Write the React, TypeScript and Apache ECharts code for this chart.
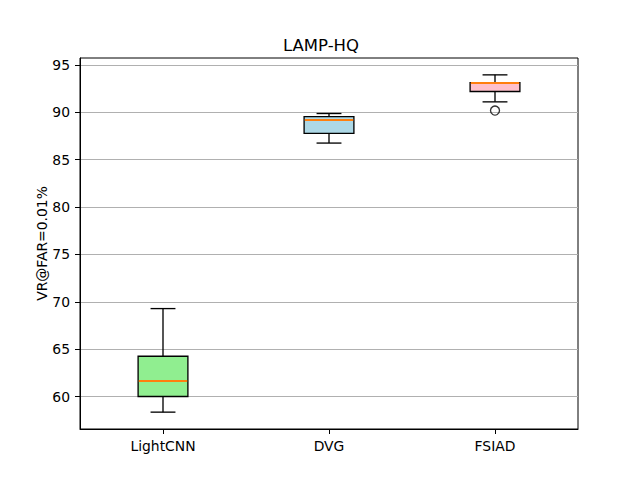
import React, { useEffect, useRef } from "react";
import * as echarts from "echarts";

const categories = ["LightCNN", "DVG", "FSIAD"];
const whiskerLow = [58.35, 86.75, 91.1];
const q1 = [60.0, 87.78, 92.19];
const median = [61.6, 89.23, 93.07];
const q3 = [64.25, 89.55, 93.13];
const whiskerHigh = [69.28, 89.87, 93.95];
const boxColors = ["#90ee90", "#add8e6", "#ffc0cb"];
const outlierCategory = ["FSIAD"];
const outlierValue = [90.18];
const yTicks = [60, 65, 70, 75, 80, 85, 90, 95];

export default function App() {
  const ref = useRef<HTMLDivElement>(null);
  useEffect(() => {
    if (!ref.current) return;
    const chart = echarts.init(ref.current, null, { renderer: "svg" });
    const font = "DejaVu Sans";
    const boxData = categories.map((_, i) => [i, whiskerLow[i], q1[i], median[i], q3[i], whiskerHigh[i]]);
    const option: any = {
      animation: false,
      backgroundColor: "#ffffff",
      title: {
        text: "LAMP-HQ",
        left: "center",
        top: 32,
        textStyle: { fontFamily: font, fontSize: 16.5, fontWeight: "normal", color: "#000" },
      },
      grid: {
        left: 80,
        right: 64,
        top: 58,
        bottom: 54,
        show: true,
        borderColor: "#000",
        borderWidth: 1,
        backgroundColor: "transparent",
      },
      xAxis: {
        type: "category",
        data: categories,
        boundaryGap: true,
        axisLine: { show: true, lineStyle: { color: "#000", width: 1 } },
        axisTick: { show: true, alignWithLabel: true, length: 5, inside: false, lineStyle: { color: "#000" } },
        axisLabel: { fontFamily: font, fontSize: 13.9, color: "#000", margin: 10 },
        splitLine: { show: false },
      },
      yAxis: {
        type: "value",
        min: 56.57,
        max: 95.73,
        name: "VR@FAR=0.01%",
        nameLocation: "middle",
        nameGap: 31,
        nameMoveOverlap: false,
        nameTextStyle: { fontFamily: font, fontSize: 13.9, color: "#000" },
        axisLine: { show: true, lineStyle: { color: "#000", width: 1 } },
        axisTick: { show: true, length: 5, inside: false, customValues: yTicks, lineStyle: { color: "#000" } },
        axisLabel: { fontFamily: font, fontSize: 13.9, color: "#000", margin: 10, customValues: yTicks },
        splitLine: { show: true, lineStyle: { color: "#b0b0b0", width: 1.07 } },
      },
      series: [
        {
          type: "custom",
          data: boxData,
          encode: { x: 0, y: [1, 2, 3, 4, 5] },
          z: 3,
          renderItem: (params: any, api: any) => {
            const idx = api.value(0);
            const band = api.size([1, 0])[0];
            const bw = band * 0.3;
            const cw = band * 0.15;
            const pLow = api.coord([idx, api.value(1)]);
            const pQ1 = api.coord([idx, api.value(2)]);
            const pMed = api.coord([idx, api.value(3)]);
            const pQ3 = api.coord([idx, api.value(4)]);
            const pHigh = api.coord([idx, api.value(5)]);
            const cx = pLow[0];
            const lineStyle = { stroke: "#000", lineWidth: 1.33 };
            const medY = Math.round(pMed[1]);
            return {
              type: "group",
              children: [
                { type: "line", shape: { x1: cx, y1: pQ1[1], x2: cx, y2: pLow[1] }, style: lineStyle },
                { type: "line", shape: { x1: cx, y1: pQ3[1], x2: cx, y2: pHigh[1] }, style: lineStyle },
                { type: "line", shape: { x1: cx - cw / 2, y1: pLow[1], x2: cx + cw / 2, y2: pLow[1] }, style: lineStyle },
                { type: "line", shape: { x1: cx - cw / 2, y1: pHigh[1], x2: cx + cw / 2, y2: pHigh[1] }, style: lineStyle },
                {
                  type: "rect",
                  shape: { x: cx - bw / 2, y: pQ3[1], width: bw, height: pQ1[1] - pQ3[1] },
                  style: { fill: boxColors[params.dataIndex], stroke: "#000", lineWidth: 1.33 },
                },
                {
                  type: "line",
                  shape: { x1: cx - bw / 2 + 0.7, y1: medY, x2: cx + bw / 2 - 0.7, y2: medY },
                  style: { stroke: "#ff7f0e", lineWidth: 2 },
                },
              ],
            };
          },
        },
        {
          type: "scatter",
          data: outlierCategory.map((c, i) => [c, outlierValue[i]]),
          symbol: "circle",
          symbolSize: 9,
          z: 4,
          itemStyle: { color: "transparent", borderColor: "#000", borderWidth: 1.33 },
        },
      ],
    };
    chart.setOption(option);
    return () => chart.dispose();
  }, []);
  return <div ref={ref} style={{ width: 642, height: 483, position: "absolute", left: 0, top: 0 }} />;
}
